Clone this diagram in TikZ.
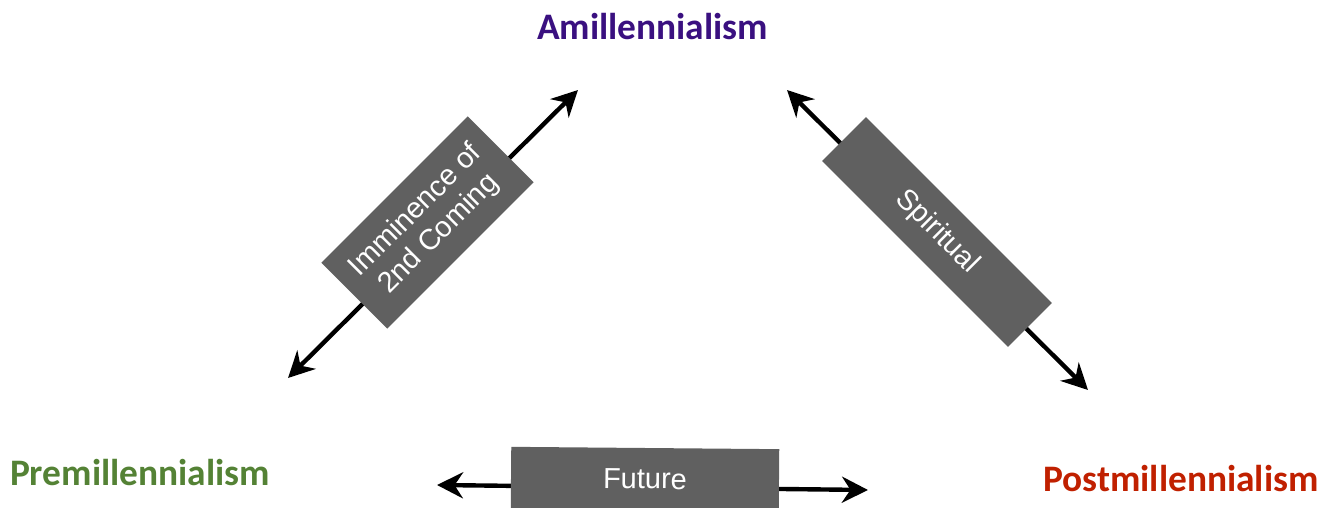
\documentclass[tikz,border=0pt]{standalone}
\usepackage{fontspec}
\setmainfont{Liberation Sans}
\newfontfamily\titlefont{Carlito}
\usetikzlibrary{arrows.meta}
\definecolor{amipurple}{RGB}{58,16,128}
\definecolor{pregreen}{RGB}{84,130,53}
\definecolor{postred}{RGB}{192,32,0}
\definecolor{boxgray}{RGB}{96,96,96}
\begin{document}
\begin{tikzpicture}[x=0.5pt, y=-0.5pt,
    title/.style={anchor=base, font=\titlefont\fontsize{18.7}{22}\selectfont\bfseries},
    tag/.style={fill=boxgray, text=white, inner sep=0pt, align=center, font=\fontsize{14.5}{16.5}\selectfont},
    link/.style={line width=2.2pt, {Stealth[length=13pt,width=13pt]}-{Stealth[length=13pt,width=13pt]}}]
  \useasboundingbox (0,0) rectangle (1330,508);
  \node[title, text=amipurple] (am) at (652.5,40) {Amillennialism};
  \node[title, text=pregreen] (pre) at (140,485) {Premillennialism};
  \node[title, text=postred] (post) at (1181,491) {Postmillennialism};
  \coordinate (pa) at (288,378);
  \coordinate (ap) at (578,90);
  \coordinate (as) at (787,90);
  \coordinate (sa) at (1088,390);
  \coordinate (pf) at (437,485);
  \coordinate (fp) at (868,490);
  \draw[link] (pa) -- (ap);
  \draw[link] (as) -- (sa);
  \draw[link] (pf) -- (fp);
  \node[tag, rotate=45, minimum width=103.5pt, minimum height=46.5pt] (imm) at (427.5,222.5) {Imminence of\\2nd Coming};
  \node[tag, rotate=-45, minimum width=131.5pt, minimum height=31pt] (spi) at (937,232) {Spiritual};
  \node[tag, rotate=-0.5, minimum width=134pt, minimum height=31pt] (fut) at (645,479) {Future};
\end{tikzpicture}
\end{document}
